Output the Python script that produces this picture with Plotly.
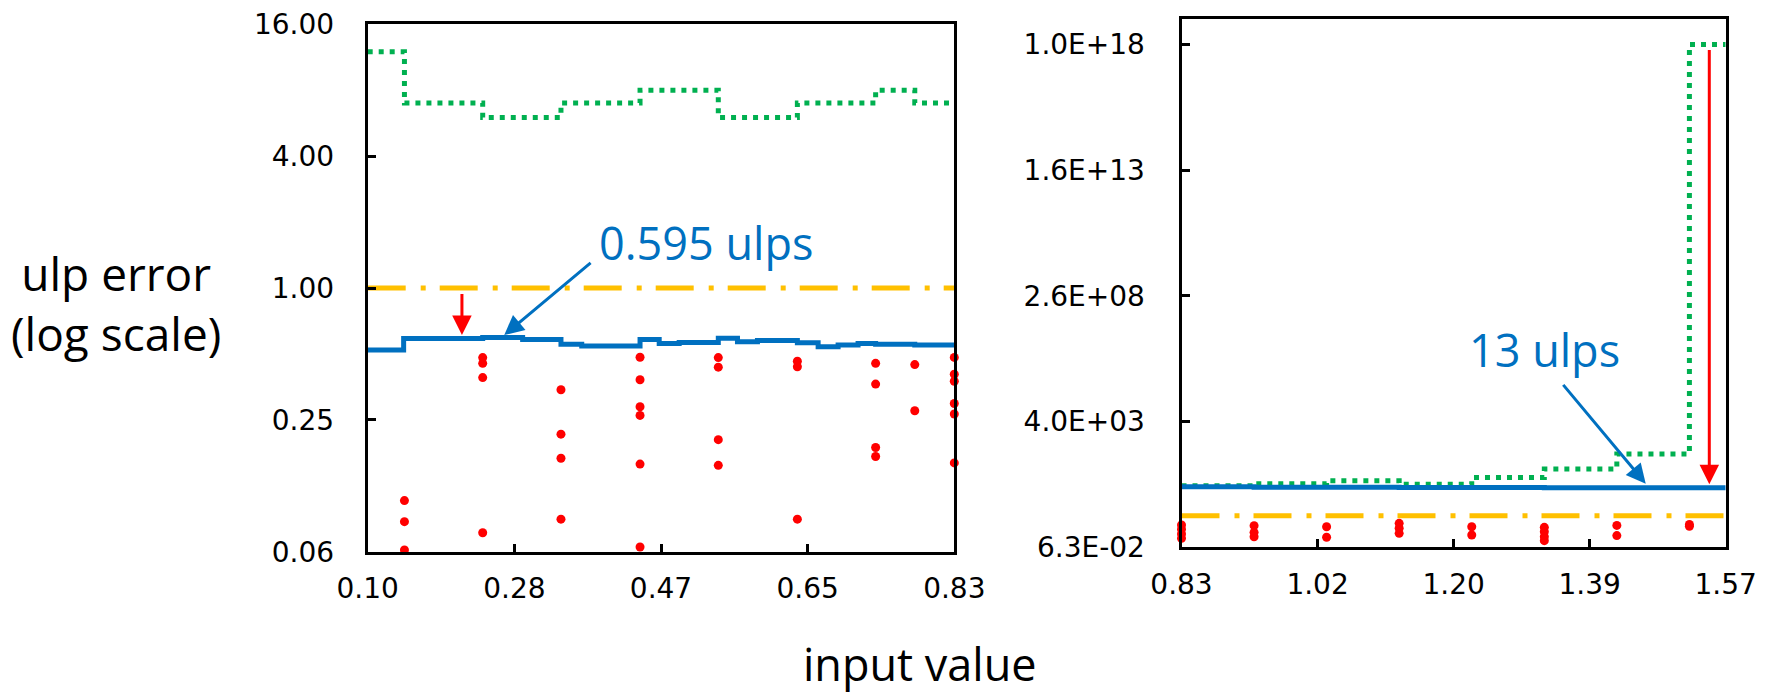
import numpy as np
import plotly.graph_objects as go

W, H = 1773, 697

# ---------------- left panel: inputs 0.10 .. 0.83 ----------------
left_xrange = [0.10, 0.8345]
left_xtick_text = ["0.10", "0.28", "0.47", "0.65", "0.83"]
left_ytick_vals = [0.0625, 0.25, 1.0, 4.0, 16.0]
left_ytick_text = ["0.06", "0.25", "1.00", "4.00", "16.00"]

# baseline implementation (green, dotted): one value per sub-interval
left_knots = [0.10, 0.146, 0.244, 0.342, 0.441, 0.539, 0.638, 0.736, 0.785, 0.8345]
left_baseline_err = [12, 7, 6, 7, 8, 6, 7, 8, 7]

# improved implementation (blue)
left_best_x = [0.10, 0.145, 0.244, 0.294, 0.342, 0.368, 0.441, 0.465, 0.490, 0.539,
               0.563, 0.588, 0.638, 0.664, 0.689, 0.714, 0.736, 0.785, 0.8345]
left_best_err = [0.521, 0.588, 0.595, 0.582, 0.554, 0.543, 0.582, 0.558, 0.564,
                 0.590, 0.568, 0.576, 0.562, 0.539, 0.549, 0.558, 0.554, 0.549]

# sampled errors at the interval boundaries (red dots)
left_dot_x = ([0.146] * 3 + [0.244] * 4 + [0.342] * 4 + [0.441] * 6 + [0.539] * 4
              + [0.638] * 3 + [0.736] * 4 + [0.785] * 2 + [0.8345] * 6)
left_dot_err = [0.107, 0.0857, 0.0636,
                0.481, 0.453, 0.390, 0.0763,
                0.343, 0.215, 0.167, 0.088,
                0.483, 0.381, 0.287, 0.262, 0.157, 0.0657,
                0.481, 0.435, 0.203, 0.155,
                0.463, 0.437, 0.088,
                0.453, 0.364, 0.187, 0.170,
                0.447, 0.275,
                0.482, 0.404, 0.375, 0.297, 0.266, 0.159]

# ---------------- right panel: inputs 0.83 .. 1.57 ----------------
right_xrange = [0.8345, 1.5708]
right_xtick_text = ["0.83", "1.02", "1.20", "1.39", "1.57"]
right_ytick_vals = [6.25e-2, 4.0e3, 2.56e8, 1.6384e13, 1.048576e18]
right_ytick_text = ["6.3E-02", "4.0E+03", "2.6E+08", "1.6E+13", "1.0E+18"]
right_ytop = 1e19

right_knots = [0.8345, 0.9327, 1.0308, 1.1290, 1.2272, 1.3254, 1.4235, 1.5217, 1.5708]
right_baseline_err = [14, 17, 22, 16, 29, 62, 230, 1.05e18]

right_best_x = [0.8345, 0.9327, 1.1290, 1.3254, 1.5708]
right_best_err = [13, 12.5, 12.2, 11.8]

right_dot_x = ([0.8345] * 4 + [0.9327] * 3 + [1.0308] * 2 + [1.1290] * 3 + [1.2272] * 2
               + [1.3254] * 4 + [1.4235] * 2 + [1.5217] * 2)
right_dot_err = [0.444, 0.305, 0.201, 0.138,
                 0.419, 0.234, 0.159,
                 0.383, 0.151,
                 0.516, 0.333, 0.214,
                 0.383, 0.185,
                 0.363, 0.247, 0.159, 0.112,
                 0.430, 0.175,
                 0.470, 0.400]

ideal_err = 1.0  # one-ulp reference (orange dash-dot)

# annotations: (tip x, tip err, tail x, tail err)
left_red_arrow = (0.218, 0.61, 0.218, 0.955)
left_blue_arrow = (0.271, 0.61, 0.381, 1.32)
right_red_arrow = (1.5486, 16.0, 1.5486, 7.4e17)
right_blue_arrow = (1.4626, 17.0, 1.3493, 1.16e5)
left_label = ("0.595 ulps", 0.523, 1.62)
right_label = ("13 ulps", 1.3263, 2.37e6)

GREEN = "#00B050"
BLUE = "#0070C0"
ORANGE = "#FFC000"
RED = "#FF0000"


def steps(x, y):
    return list(x), list(y) + [y[-1]]


fig = go.Figure()

for xa, ya, knots, base, bx, by, dx, dy, xr in [
    ("x", "y", left_knots, left_baseline_err, left_best_x, left_best_err,
     left_dot_x, left_dot_err, left_xrange),
    ("x2", "y2", right_knots, right_baseline_err, right_best_x, right_best_err,
     right_dot_x, right_dot_err, right_xrange),
]:
    gx, gy = steps(knots, base)
    fig.add_trace(go.Scatter(x=gx, y=gy, xaxis=xa, yaxis=ya, mode="lines",
                             line=dict(color=GREEN, width=5, shape="hv", dash="5px,6px"),
                             showlegend=False, hoverinfo="skip"))
    fig.add_trace(go.Scatter(x=xr, y=[ideal_err, ideal_err], xaxis=xa, yaxis=ya, mode="lines",
                             line=dict(color=ORANGE, width=5, dash="38px,15px,5px,14px"),
                             showlegend=False, hoverinfo="skip"))
    px_, py_ = steps(bx, by)
    fig.add_trace(go.Scatter(x=px_, y=py_, xaxis=xa, yaxis=ya, mode="lines",
                             line=dict(color=BLUE, width=5, shape="hv"),
                             showlegend=False, hoverinfo="skip"))
    fig.add_trace(go.Scatter(x=dx, y=dy, xaxis=xa, yaxis=ya, mode="markers",
                             marker=dict(color=RED, size=9, line=dict(width=0)),
                             cliponaxis=False, showlegend=False, hoverinfo="skip"))

TICKFONT = dict(family="DejaVu Sans, sans-serif", size=28, color="black")
TEXTFONT = "Open Sans, sans-serif"

axis_common = dict(showline=True, linecolor="black", linewidth=3, mirror=True,
                   ticks="inside", ticklen=8, tickwidth=2.5, tickcolor="black",
                   showgrid=False, zeroline=False, tickfont=TICKFONT)

lx0, lx1, ly_top, ly_bot = 367.7, 954.3, 24.3, 551.7
rx0, rx1, ry_top, ry_bot = 1181.5, 1725.7, 19.0, 547.3

fig.update_layout(
    width=W, height=H,
    margin=dict(l=0, r=0, t=0, b=0, autoexpand=False),
    paper_bgcolor="white", plot_bgcolor="white",
    xaxis=dict(axis_common, domain=[lx0 / W, lx1 / W], range=left_xrange, anchor="y",
               tickvals=list(np.linspace(*left_xrange, 5)), ticktext=left_xtick_text,
               ticklabelstandoff=10),
    yaxis=dict(axis_common, domain=[1 - ly_bot / H, 1 - ly_top / H], type="log", anchor="x",
               range=[np.log10(left_ytick_vals[0]), np.log10(left_ytick_vals[-1])],
               tickvals=left_ytick_vals, ticktext=left_ytick_text, ticklabelstandoff=25),
    xaxis2=dict(axis_common, domain=[rx0 / W, rx1 / W], range=right_xrange, anchor="y2",
                tickvals=list(np.linspace(*right_xrange, 5)), ticktext=right_xtick_text,
                ticklabelstandoff=10),
    yaxis2=dict(axis_common, domain=[1 - ry_bot / H, 1 - ry_top / H], type="log", anchor="x2",
                range=[np.log10(right_ytick_vals[0]), np.log10(right_ytop)],
                tickvals=right_ytick_vals, ticktext=right_ytick_text, ticklabelstandoff=28),
)


def arrow(xref, yref, spec, color):
    xt, yt, xs, ys = spec
    return dict(xref=xref, yref=yref, axref=xref, ayref=yref,
                x=xt, y=np.log10(yt), ax=xs, ay=np.log10(ys), text="",
                showarrow=True, arrowhead=2, arrowsize=1.3, arrowwidth=3,
                arrowcolor=color, standoff=0)


def label(xref, yref, spec):
    txt, x, y = spec
    return dict(xref=xref, yref=yref, x=x, y=np.log10(y), text=txt, showarrow=False,
                xanchor="center", yanchor="middle",
                font=dict(family=TEXTFONT, size=45, color=BLUE))


annotations = [
    arrow("x", "y", left_red_arrow, RED),
    arrow("x", "y", left_blue_arrow, BLUE),
    arrow("x2", "y2", right_red_arrow, RED),
    arrow("x2", "y2", right_blue_arrow, BLUE),
    label("x", "y", left_label),
    label("x2", "y2", right_label),
    dict(xref="paper", yref="paper", x=116 / W, y=1 - 303 / H, text="ulp error<br>(log scale)",
         showarrow=False, xanchor="center", yanchor="middle", align="center",
         font=dict(family=TEXTFONT, size=46, color="black")),
    dict(xref="paper", yref="paper", x=920 / W, y=1 - 663 / H, text="input value",
         showarrow=False, xanchor="center", yanchor="middle",
         font=dict(family=TEXTFONT, size=45, color="black")),
]
fig.update_layout(annotations=annotations)

fig.write_html("out.html")
